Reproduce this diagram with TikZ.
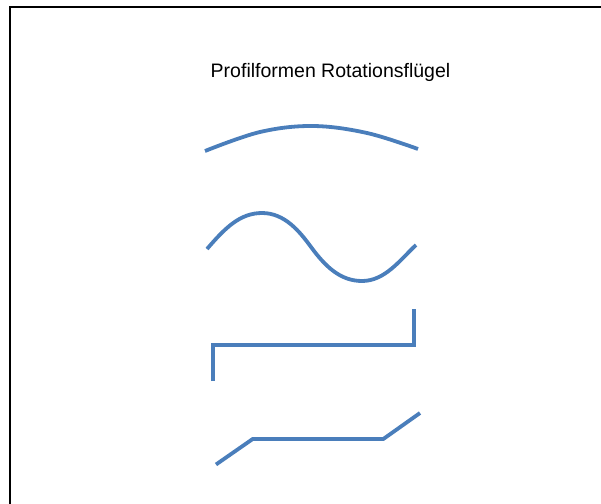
\documentclass[tikz,border=0pt]{standalone}
\usepackage{fontspec}
\setmainfont{Liberation Sans}
\definecolor{profblue}{RGB}{74,126,187}
\tikzset{
  profile/.style={draw=profblue, line width=3.8pt, line join=miter},
  frameline/.style={draw=black, line width=2pt},
}
\begin{document}
\begin{tikzpicture}[x=1pt,y=-1pt]
\useasboundingbox (0,0) rectangle (601,503);
\begin{scope}
\clip (0,0) rectangle (601,503);
\draw[frameline] (10.3,6.9) rectangle (640,540);
\end{scope}
\node[anchor=base, font=\fontsize{19.5}{23}\selectfont, inner sep=0pt] (title) at (330.5,77.5) {Profilformen Rotationsflügel};
% profile 1: arc
\draw[profile] plot[smooth, tension=0.6] coordinates {(205,151) (260,132) (313,126) (367,133) (418,149)};
% profile 2: sine
\draw[profile] (207,249) .. controls (225,228) and (240,213) .. (262,213)
  .. controls (285,213) and (300,232) .. (311,247)
  .. controls (325,266) and (340,281) .. (362,281)
  .. controls (385,281) and (400,260) .. (416,245);
% profile 3: bracket
\draw[profile] (213.3,381) -- (213.3,345) -- (414,345) -- (414,309);
% profile 4: bent
\draw[profile] (216,464.5) -- (252.7,439) -- (383.3,439) -- (420,413);
\end{tikzpicture}
\end{document}
